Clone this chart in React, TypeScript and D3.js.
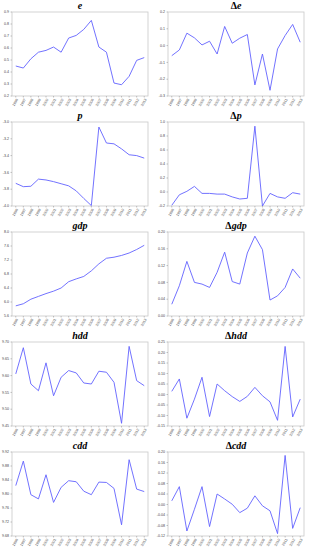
import React from 'react';
import * as d3 from 'd3';

const years = d3.range(1996, 2014).map(String);

const eVals = [0.45, 0.433, 0.51, 0.565, 0.58, 0.608, 0.565, 0.683, 0.705, 0.755, 0.83, 0.608, 0.565, 0.308, 0.294, 0.364, 0.497, 0.52];
const dEVals = [-0.06, -0.026, 0.074, 0.046, 0.004, 0.026, -0.05, 0.114, 0.014, 0.044, 0.066, -0.234, -0.05, -0.266, -0.02, 0.06, 0.126, 0.02];
const pVals = [-3.73, -3.77, -3.765, -3.68, -3.69, -3.71, -3.735, -3.76, -3.82, -3.91, -3.995, -3.06, -3.25, -3.26, -3.32, -3.39, -3.4, -3.43];
const dPVals = [-0.19, -0.04, 0.01, 0.08, -0.02, -0.02, -0.03, -0.03, -0.07, -0.1, -0.09, 0.94, -0.2, -0.02, -0.07, -0.09, -0.01, -0.03];
const gdpVals = [5.89, 5.95, 6.08, 6.16, 6.24, 6.31, 6.4, 6.58, 6.66, 6.73, 6.89, 7.09, 7.25, 7.28, 7.33, 7.4, 7.5, 7.62];
const dGdpVals = [0.028, 0.072, 0.13, 0.08, 0.076, 0.068, 0.104, 0.152, 0.082, 0.076, 0.15, 0.19, 0.158, 0.038, 0.048, 0.068, 0.112, 0.09];
const hddVals = [9.605, 9.683, 9.575, 9.555, 9.638, 9.54, 9.595, 9.615, 9.608, 9.578, 9.575, 9.613, 9.61, 9.58, 9.458, 9.687, 9.585, 9.57];
const dHddVals = [0.015, 0.074, -0.113, -0.022, 0.082, -0.105, 0.05, 0.018, -0.01, -0.033, -0.009, 0.034, -0.006, -0.035, -0.123, 0.229, -0.107, -0.022];
const cddVals = [9.824, 9.894, 9.798, 9.786, 9.855, 9.776, 9.819, 9.838, 9.835, 9.808, 9.798, 9.834, 9.833, 9.816, 9.712, 9.898, 9.814, 9.807];
const dCddVals = [0.014, 0.068, -0.101, -0.018, 0.068, -0.084, 0.04, 0.021, 0.001, -0.031, -0.014, 0.033, -0.005, -0.024, -0.111, 0.187, -0.091, -0.012];

const eTicks = [0.2, 0.3, 0.4, 0.5, 0.6, 0.7, 0.8, 0.9];
const dETicks = [-0.3, -0.2, -0.1, 0.0, 0.1, 0.2];
const pTicks = [-4.0, -3.8, -3.6, -3.4, -3.2, -3.0];
const dPTicks = [-0.2, 0.0, 0.2, 0.4, 0.6, 0.8, 1.0];
const gdpTicks = [5.6, 6.0, 6.4, 6.8, 7.2, 7.6, 8.0];
const dGdpTicks = [0.0, 0.04, 0.08, 0.12, 0.16, 0.2];
const hddTicks = [9.45, 9.5, 9.55, 9.6, 9.65, 9.7];
const dHddTicks = [-0.15, -0.1, -0.05, 0.0, 0.05, 0.1, 0.15, 0.2, 0.25];
const cddTicks = [9.68, 9.72, 9.76, 9.8, 9.84, 9.88, 9.92];
const dCddTicks = [-0.12, -0.08, -0.04, 0.0, 0.04, 0.08, 0.12, 0.16, 0.2];

const panels = [
  { title: 'e', delta: false, values: eVals, ticks: eTicks, digits: 1 },
  { title: 'e', delta: true, values: dEVals, ticks: dETicks, digits: 1 },
  { title: 'p', delta: false, values: pVals, ticks: pTicks, digits: 1 },
  { title: 'p', delta: true, values: dPVals, ticks: dPTicks, digits: 1 },
  { title: 'gdp', delta: false, values: gdpVals, ticks: gdpTicks, digits: 1 },
  { title: 'gdp', delta: true, values: dGdpVals, ticks: dGdpTicks, digits: 2 },
  { title: 'hdd', delta: false, values: hddVals, ticks: hddTicks, digits: 2 },
  { title: 'hdd', delta: true, values: dHddVals, ticks: dHddTicks, digits: 2 },
  { title: 'cdd', delta: false, values: cddVals, ticks: cddTicks, digits: 2 },
  { title: 'cdd', delta: true, values: dCddVals, ticks: dCddTicks, digits: 2 },
];

const W = 314;
const H = 550;
const colLeft = [12, 168];
const plotW = 136;
const rowH = 110;
const plotTop = 12;
const plotH = 84;

const fmt = (v: number, d: number) => {
  const s = Math.abs(v).toFixed(d);
  return v < -1e-9 ? '-' + s : s;
};

const Panel: React.FC<{ p: typeof panels[number]; i: number }> = ({ p, i }) => {
  const x0 = colLeft[i % 2];
  const y0 = Math.floor(i / 2) * rowH + plotTop;

  const x = d3.scalePoint<string>().domain(years).range([0, plotW]).padding(0.5);
  const y = d3
    .scaleLinear()
    .domain([p.ticks[0], p.ticks[p.ticks.length - 1]])
    .range([plotH, 0]);

  const line = d3
    .line<number>()
    .x((_, k) => x(years[k]) as number)
    .y((d) => y(d));

  return (
    <g transform={`translate(${x0},${y0})`}>
      <text
        x={plotW / 2}
        y={-3.5}
        textAnchor="middle"
        fontFamily="'Liberation Serif', serif"
        fontWeight="bold"
        fontSize={10}
        fill="#000"
      >
        {p.delta ? <tspan fontStyle="normal">Δ</tspan> : null}
        <tspan fontStyle="italic">{p.title}</tspan>
      </text>
      <rect x={0} y={0} width={plotW} height={plotH} fill="none" stroke="#c8c8c8" strokeWidth={0.8} />
      {p.ticks.map((t) => (
        <g key={t} transform={`translate(0,${y(t)})`}>
          <line x1={-1.5} x2={0} stroke="#888" strokeWidth={0.5} />
          <text
            x={-3}
            dy="0.35em"
            textAnchor="end"
            fontFamily="'Liberation Sans', Arial, sans-serif"
            fontSize={3.6}
            fill="#444"
          >
            {fmt(t, p.digits)}
          </text>
        </g>
      ))}
      {years.map((yr) => (
        <g key={yr} transform={`translate(${x(yr)},${plotH})`}>
          <line y1={0} y2={1.5} stroke="#888" strokeWidth={0.5} />
          <text
            transform="translate(1.5,3) rotate(-60)"
            textAnchor="end"
            dy="0.35em"
            fontFamily="'Liberation Sans', Arial, sans-serif"
            fontSize={3.6}
            fill="#444"
          >
            {yr}
          </text>
        </g>
      ))}
      <path d={line(p.values) || ''} fill="none" stroke="#6262ff" strokeWidth={0.9} />
    </g>
  );
};

export default function App() {
  return (
    <svg
      width={W}
      height={H}
      viewBox={`0 0 ${W} ${H}`}
      style={{ position: 'absolute', left: 0, top: 0, background: '#fff' }}
    >
      {panels.map((p, i) => (
        <Panel key={i} p={p} i={i} />
      ))}
    </svg>
  );
}
